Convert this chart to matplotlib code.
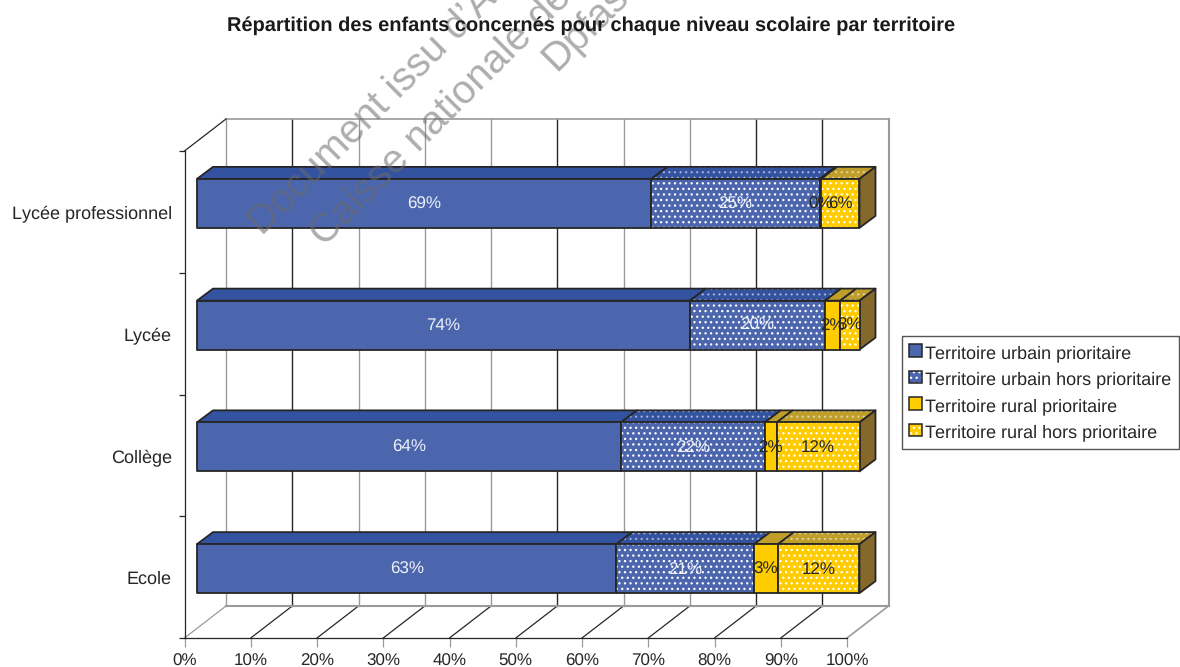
import matplotlib
matplotlib.use("Agg")
import matplotlib.pyplot as plt
from matplotlib.patches import Polygon, Rectangle
from matplotlib.legend_handler import HandlerBase

plt.rcParams['font.family'] = ['Liberation Sans', 'DejaVu Sans']
plt.rcParams['hatch.linewidth'] = 0.9
plt.rcParams['text.hinting'] = 'no_hinting'
plt.rcParams['text.hinting_factor'] = 1

# donnees
niveaux = ['Ecole', 'Collège', 'Lycée', 'Lycée professionnel']
series = ['Territoire urbain prioritaire', 'Territoire urbain hors prioritaire',
          'Territoire rural prioritaire', 'Territoire rural hors prioritaire']
urbain_prio = [63.3, 64.0, 74.4, 68.6]
urbain_hors = [20.8, 21.7, 20.4, 25.4]
rural_prio = [3.6, 1.8, 2.3, 0.2]
rural_hors = [12.3, 12.5, 2.9, 5.8]
etiquettes = [['63%', '64%', '74%', '69%'],
              ['21%', '22%', '20%', '25%'],
              ['3%', '2%', '2%', '0%'],
              ['12%', '12%', '3%', '6%']]
graduations = list(range(0, 101, 10))
valeurs = [urbain_prio, urbain_hors, rural_prio, rural_hors]

# face avant, dessus, cote, pointilles, couleur du texte
BLEU = ('#4C66AE', '#3353A0', '#3353A0', False, '#EEF1F8')
BLEU_P = ('#4C66AE', '#3353A0', '#3353A0', True, '#EEF1F8')
JAUNE = ('#FFCC00', '#BF9E2A', '#85692A', False, '#262626')
JAUNE_P = ('#FFCC00', '#BF9E2A', '#85692A', True, '#262626')
styles = [BLEU, BLEU_P, JAUNE, JAUNE_P]
NOIR = '#262626'
GRIS = '#9A9A9A'

W, H = 1180, 667
fig = plt.figure(figsize=(W / 100, H / 100), dpi=100)
ax = fig.add_axes([184.5 / W, (H - 638) / H, 662.5 / W, 487 / H])
ax.set_xlim(0, 100)
ax.set_ylim(0, 4)
ax.patch.set_visible(False)

# decalages de la 3D, en unites de donnees
UX, UY = 6.625, 121.75
mur_dx, mur_dy = 41.5 / UX, 32 / UY
barre_dx, barre_dy = 12.5 / UX, 8.5 / UY
prof_dx, prof_dy = 16 / UX, 12 / UY
demi_h = 24.5 / UY


def poly(pts, fc, dots=False, lw=1.3, z=3, alpha_dots=1):
    ax.add_patch(Polygon(pts, closed=True, fc=fc, ec='none', lw=0, zorder=z, clip_on=False))
    if dots:
        ax.add_patch(Polygon(pts, closed=True, fc='none', ec='white', lw=0, hatch='...',
                             alpha=alpha_dots, zorder=z, clip_on=False))
    ax.add_patch(Polygon(pts, closed=True, fc='none', ec=NOIR, lw=lw, zorder=z, clip_on=False,
                         joinstyle='round'))


# murs et grille
couleurs_grille = [GRIS, NOIR, GRIS, GRIS, GRIS, NOIR, GRIS, GRIS, NOIR, NOIR]
for g, c in zip(graduations[:-1], couleurs_grille):
    ax.plot([g + mur_dx] * 2, [mur_dy, 4 + mur_dy], color=c, lw=1, zorder=1, clip_on=False)
    ax.plot([g, g + mur_dx], [0, mur_dy], color=GRIS if g == 0 else NOIR, lw=0.9, zorder=1,
            clip_on=False)
ax.plot([100 + mur_dx] * 2, [mur_dy, 4 + mur_dy], color=GRIS, lw=1.5, zorder=1, clip_on=False)
ax.plot([100, 100 + mur_dx], [0, mur_dy], color=GRIS, lw=1.2, zorder=1, clip_on=False)
ax.plot([mur_dx, 100 + mur_dx], [mur_dy, mur_dy], color=GRIS, lw=1.5, zorder=1, clip_on=False)
ax.plot([mur_dx, 100 + mur_dx], [4 + mur_dy, 4 + mur_dy], color=GRIS, lw=1.2, zorder=1, clip_on=False)
ax.plot([0, mur_dx], [4, 4 + mur_dy], color=NOIR, lw=0.9, zorder=1, clip_on=False)

# barres empilees
for i in range(len(niveaux)):
    bas = i + 0.5 + barre_dy - demi_h
    haut = i + 0.5 + barre_dy + demi_h
    gauche = barre_dx
    for s, val in enumerate(valeurs):
        v = val[i]
        droite = gauche + v
        front, top, side, dots, txt = styles[s]
        poly([(gauche, haut), (droite, haut), (droite + prof_dx, haut + prof_dy),
              (gauche + prof_dx, haut + prof_dy)], top, dots, alpha_dots=0.45)
        poly([(gauche, bas), (droite, bas), (droite, haut), (gauche, haut)], front, dots, z=4)
        if s == len(valeurs) - 1:
            poly([(droite, bas), (droite + prof_dx, bas + prof_dy),
                  (droite + prof_dx, haut + prof_dy), (droite, haut)], side)
        ax.text(gauche + v / 2, i + 0.5 + barre_dy - 0.005, etiquettes[s][i], color=txt,
                ha='center', va='center', fontsize=12.3, zorder=6)
        gauche = droite

# axes
for cote in ('top', 'right'):
    ax.spines[cote].set_visible(False)
ax.spines['left'].set_color(NOIR)
ax.spines['bottom'].set_color(NOIR)
ax.spines['left'].set_linewidth(0.9)
ax.spines['bottom'].set_linewidth(0.9)
ax.set_xticks(graduations)
ax.set_xticklabels([f'{g}%' for g in graduations])
ax.set_yticks(range(5))
ax.set_yticklabels([])
ax.set_yticks([i + 0.5 for i in range(4)], minor=True)
ax.set_yticklabels(niveaux, minor=True)
ax.tick_params(axis='x', length=6.5, width=0.9, color=GRIS, pad=5, labelsize=12.2, labelcolor=NOIR)
ax.tick_params(axis='y', which='major', length=4.5, width=0.9, color=NOIR)
ax.tick_params(axis='y', which='minor', length=0, pad=9, labelsize=13.25, labelcolor=NOIR)


class CarreHandler(HandlerBase):
    def create_artists(self, legend, orig, xd, yd, width, height, fontsize, trans):
        fc, dots = orig
        x, y = width - 11, height / 2 - 5
        arts = [Rectangle((x, y), 9, 9, fc=fc, ec='none', transform=trans)]
        if dots:
            arts.append(Rectangle((x, y), 9, 9, fc='none', ec='white', lw=0, hatch='...', transform=trans))
        arts.append(Rectangle((x, y), 9, 9, fc='none', ec=NOIR, lw=1.1, transform=trans))
        return arts


class Carre:
    def __init__(self, fc, dots):
        self.fc, self.dots = fc, dots

    def __iter__(self):
        return iter((self.fc, self.dots))


handles = [Carre(st[0], st[3]) for st in styles]
leg = fig.legend(handles, series, handler_map={Carre: CarreHandler()},
                 loc='center left', bbox_to_anchor=(902 / W, 1 - 392.5 / H),
                 fontsize=13.2, labelspacing=0.45, handlelength=0.8, handleheight=1.0,
                 handletextpad=0.05, borderpad=0.42, borderaxespad=0, fancybox=False,
                 edgecolor='#555555', framealpha=1, labelcolor=NOIR)
leg.set_zorder(2)

# filigrane
for (x, y, s) in [(263, 237, "Document issu d’Archives"),
                  (325, 248, 'Caisse nationale de'),
                  (557, 72, 'Dpfas')]:
    fig.text(x / W, 1 - y / H, s, rotation=45, rotation_mode='anchor', ha='left', va='baseline',
             fontsize=29, color='#6A6A6A', alpha=0.55, zorder=5)

fig.text(591 / W, 1 - 25.5 / H, 'Répartition des enfants concernés pour chaque niveau scolaire par territoire',
         ha='center', va='center', fontsize=14.4, fontweight='bold', color='#1A1A1A', zorder=6)

fig.savefig('out.png', dpi=100)
